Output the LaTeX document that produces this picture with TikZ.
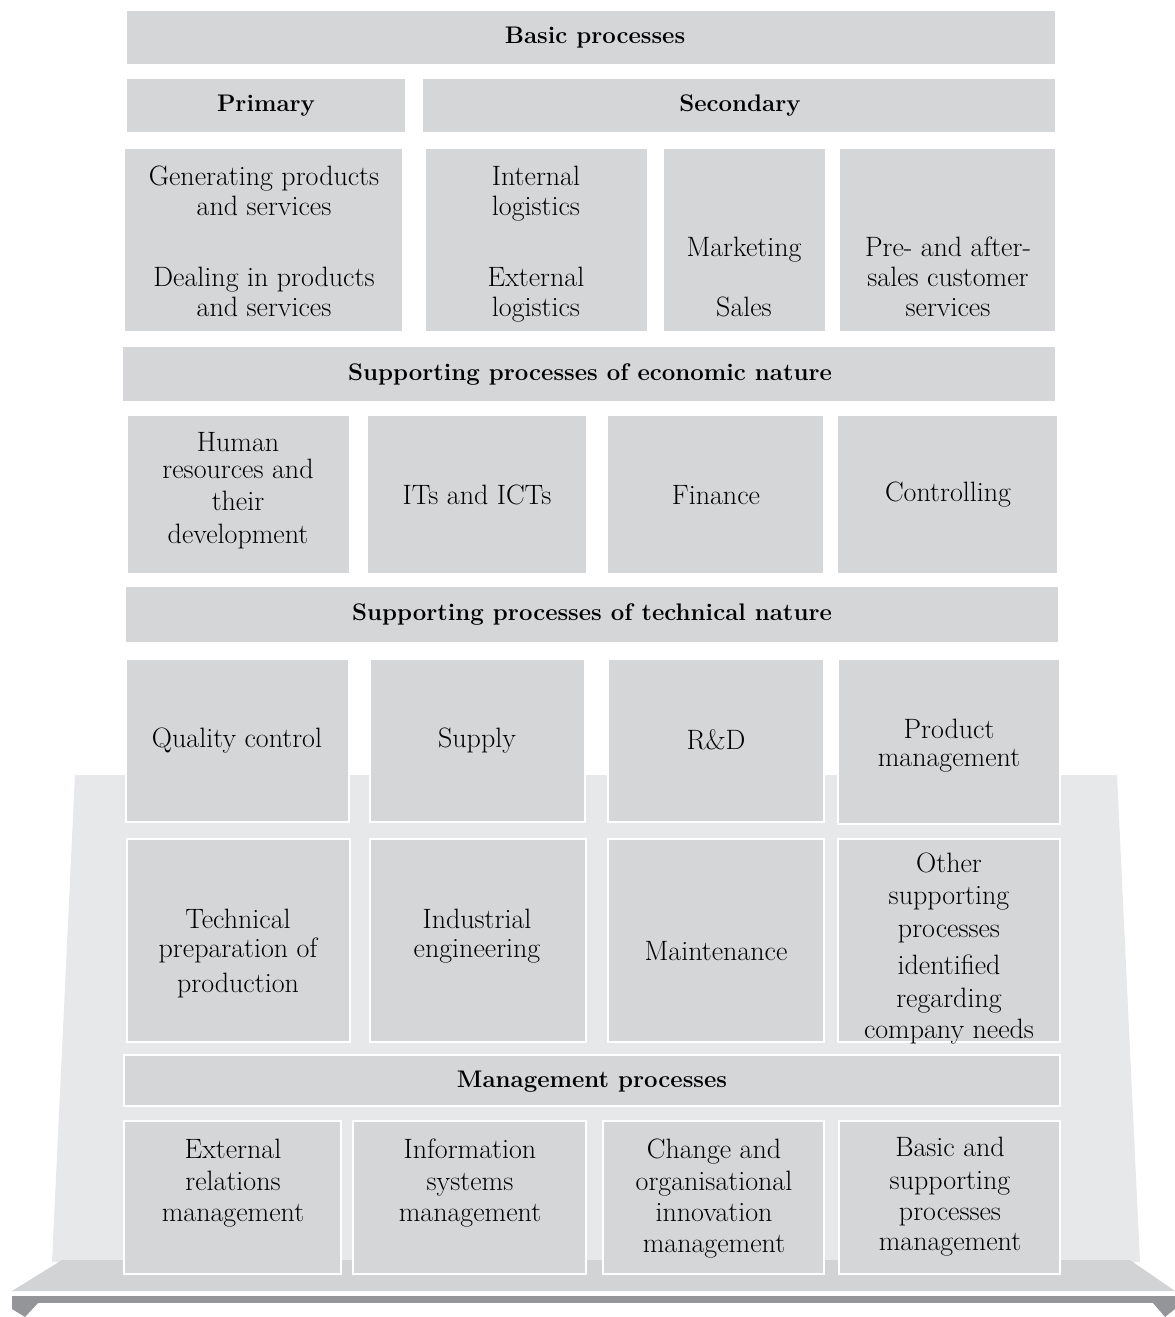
\documentclass[tikz,border=0pt]{standalone}
\usepackage{tikz}
\definecolor{boxgray}{HTML}{D5D6D8}
\definecolor{backgray}{HTML}{E7E8E9}
\definecolor{platgray}{HTML}{D2D3D5}
\definecolor{bargray}{HTML}{939598}
\tikzset{
  box/.style={fill=boxgray, draw=white, line width=1.5pt, inner sep=0pt},
  lbl/.style={inner sep=0pt, anchor=base,
              font=\fontsize{28}{32}\selectfont},
  ttl/.style={inner sep=0pt, anchor=base,
              font=\fontsize{24}{28}\selectfont\bfseries},
}
% box from (x1,y1) to (x2,y2), in pixel units with y pointing down
\newcommand{\bx}[5]{%
  \node (#1) [box, minimum width={(#4-#2)*1pt}, minimum height={(#5-#3)*1pt}]
    at ({(#2+#4)/2},{(#3+#5)/2}) {};}
% text line centred at x, with its middle at y
\newcommand{\tx}[4]{\node (#1) [lbl] at (#2,{#3+9.5}) {#4};}
\newcommand{\hd}[4]{\node (#1) [ttl] at (#2,{#3+8}) {#4};}
\begin{document}
\begin{tikzpicture}[x=1pt,y=-1pt]
\useasboundingbox (0,0) rectangle (1175,1317);
% background trapezoid behind the lower rows
\fill[backgray] (75,775) -- (1117,775) -- (1140,1262) -- (52,1262) -- cycle;
% platform
\fill[platgray] (62,1260) -- (1130,1260) -- (1175,1291) -- (12,1291) -- cycle;
\fill[bargray] (12,1296) rectangle (1175,1303);
\fill[bargray] (12,1303) -- (38,1303) -- (25,1317) -- (12,1309) -- cycle;
\fill[bargray] (1153,1303) -- (1175,1303) -- (1175,1309) -- (1165,1317) -- cycle;

% basic processes
\bx{basic}{126}{10}{1056}{65}
\hd{basicT}{595}{35}{Basic processes}
\bx{prim}{126}{78}{406}{133}
\hd{primT}{266}{103}{Primary}
\bx{sec}{422}{78}{1056}{133}
\hd{secT}{740}{103}{Secondary}
\bx{b1}{124}{148}{403}{332}
\bx{b2}{425}{148}{648}{332}
\bx{b3}{663}{148}{826}{332}
\bx{b4}{839}{148}{1056}{332}
\tx{b1a}{264}{176}{Generating products}
\tx{b1b}{264}{206}{and services}
\tx{b1c}{264}{277}{Dealing in products}
\tx{b1d}{264}{307}{and services}
\tx{b2a}{536}{176}{Internal}
\tx{b2b}{536}{206}{logistics}
\tx{b2c}{536}{277}{External}
\tx{b2d}{536}{307}{logistics}
\tx{b3a}{744}{247}{Marketing}
\tx{b3b}{744}{307}{Sales}
\tx{b4a}{948}{247}{Pre- and after-}
\tx{b4b}{948}{277}{sales customer}
\tx{b4c}{948}{307}{services}

% supporting processes of economic nature
\bx{eco}{122}{346}{1056}{402}
\hd{ecoT}{590}{372}{Supporting processes of economic nature}
\bx{e1}{127}{415}{350}{574}
\bx{e2}{367}{415}{587}{574}
\bx{e3}{607}{415}{824}{574}
\bx{e4}{837}{415}{1058}{574}
\tx{e1a}{238}{442}{Human}
\tx{e1b}{238}{469}{resources and}
\tx{e1c}{238}{501}{their}
\tx{e1d}{238}{534}{development}
\tx{e2a}{477}{495}{ITs and ICTs}
\tx{e3a}{716}{495}{Finance}
\tx{e4a}{948}{492}{Controlling}

% supporting processes of technical nature
\bx{tec}{125}{586}{1059}{643}
\hd{tecT}{592}{612}{Supporting processes of technical nature}
\bx{t1}{126}{659}{349}{822}
\bx{t2}{370}{659}{585}{822}
\bx{t3}{608}{659}{824}{822}
\bx{t4}{838}{659}{1060}{824}
\tx{t1a}{237}{738}{Quality control}
\tx{t2a}{477}{738}{Supply}
\tx{t3a}{716}{740}{R\&D}
\tx{t4a}{949}{729}{Product}
\tx{t4b}{949}{757}{management}
\bx{u1}{127}{839}{350}{1042}
\bx{u2}{370}{839}{586}{1042}
\bx{u3}{608}{839}{824}{1042}
\bx{u4}{838}{839}{1060}{1042}
\tx{u1a}{238}{919}{Technical}
\tx{u1b}{238}{948}{preparation of}
\tx{u1c}{238}{983}{production}
\tx{u2a}{477}{919}{Industrial}
\tx{u2b}{477}{948}{engineering}
\tx{u3a}{716}{951}{Maintenance}
\tx{u4a}{949}{863}{Other}
\tx{u4b}{949}{895}{supporting}
\tx{u4c}{949}{928}{processes}
\tx{u4d}{949}{965}{identified}
\tx{u4e}{949}{998}{regarding}
\tx{u4f}{949}{1029}{company needs}

% management processes
\bx{man}{124}{1055}{1060}{1106}
\hd{manT}{592}{1079}{Management processes}
\bx{m1}{124}{1121}{341}{1274}
\bx{m2}{353}{1121}{586}{1274}
\bx{m3}{603}{1121}{824}{1274}
\bx{m4}{839}{1121}{1060}{1274}
\tx{m1a}{233}{1149}{External}
\tx{m1b}{233}{1181}{relations}
\tx{m1c}{233}{1212}{management}
\tx{m2a}{470}{1149}{Information}
\tx{m2b}{470}{1181}{systems}
\tx{m2c}{470}{1212}{management}
\tx{m3a}{714}{1149}{Change and}
\tx{m3b}{714}{1181}{organisational}
\tx{m3c}{714}{1212}{innovation}
\tx{m3d}{714}{1243}{management}
\tx{m4a}{950}{1147}{Basic and}
\tx{m4b}{950}{1180}{supporting}
\tx{m4c}{950}{1211}{processes}
\tx{m4d}{950}{1241}{management}
\end{tikzpicture}
\end{document}
